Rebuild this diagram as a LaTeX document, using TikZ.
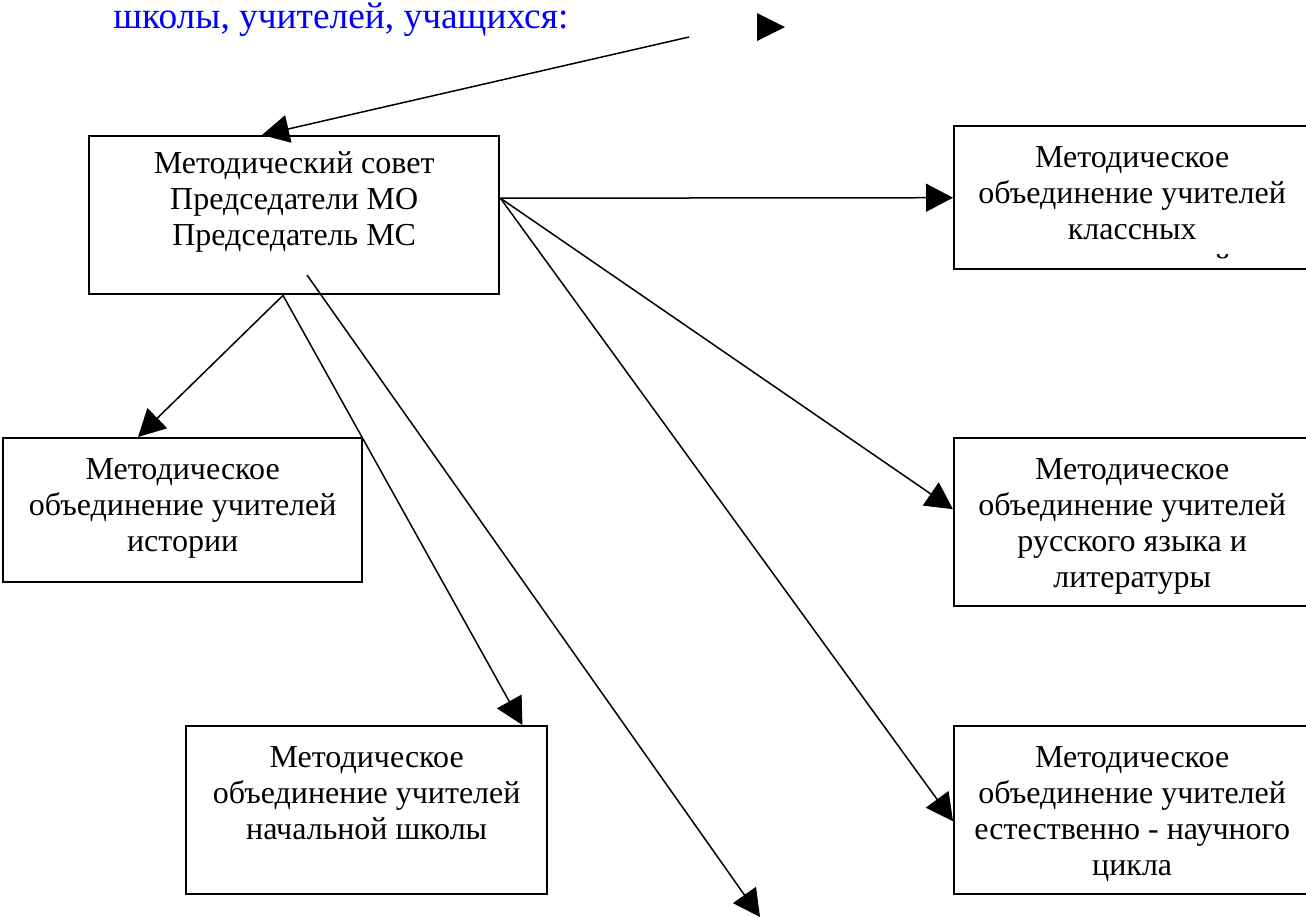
\documentclass[tikz,border=0pt]{standalone}
\usepackage{fontspec}
\setmainfont{Liberation Serif}
\usetikzlibrary{arrows.meta}

% texte d'une boite, aligne en haut
\newcommand{\textecadre}[4][7.9pt]{\parbox[c][#3][t]{#2}{\centering\vspace*{#1}\strut #4}}

\begin{document}
\begin{tikzpicture}[x=0.5pt,y=-0.5pt,
	cadre/.style={draw, line width=1.2pt, inner sep=0pt, anchor=north west, font=\fontsize{16}{18}\selectfont},
	fleche/.style={-{Triangle[length=13.5pt,width=14pt]}, line width=0.75pt}]
	% Cadre de l'image
	\useasboundingbox (0,0) rectangle (1306,917);
	\clip (0,0) rectangle (1306,917);
	
	% Titre en bleu
	\node[anchor=base west, inner sep=0pt, text=blue, font=\fontsize{18.7}{22}\selectfont] (titre) at (113,28) {школы, учителей, учащихся:};
	\coordinate (pointe) at (785,27);
	\fill (757,13) -- (pointe) -- (757,41) -- cycle;
	
	% Boites
	\node[cadre] (ms) at (88,135) {\textecadre[6.1pt]{205pt}{79pt}{Методический совет\\Председатели МО\\Председатель МС}};
	\node[cadre] (kr) at (953,125) {\textecadre{178pt}{71.5pt}{Методическое\\объединение учителей\\классных}};
	\node[cadre] (rus) at (953,437) {\textecadre{178pt}{84pt}{Методическое\\объединение учителей\\русского языка и\\литературы}};
	\node[cadre] (est) at (953,725) {\textecadre{178pt}{84pt}{Методическое\\объединение учителей\\естественно - научного\\цикла}};
	\node[cadre] (ist) at (2,437) {\textecadre{179.5pt}{72pt}{Методическое\\объединение учителей\\истории}};
	\node[cadre] (nach) at (185,725) {\textecadre{180.5pt}{84pt}{Методическое\\объединение учителей\\начальной школы}};
	
	% Ligne coupee en bas de la boite kr
	\begin{scope}
		\clip (953,125) rectangle (1306,258);
		\node[anchor=base, inner sep=0pt, font=\fontsize{16}{18}\selectfont] (krsuite) at (1131,276) {руководителей};
	\end{scope}
	
	% Points de depart
	\coordinate (depart) at (689,37);
	\coordinate (md) at ([yshift=8.5pt]ms.east);
	\coordinate (mb) at ([xshift=97.5pt]ms.south west);
	\coordinate (mi) at (307,275);
	\coordinate (bas) at (760,917);
	
	% Fleches
	\draw[fleche] (depart) -- ([xshift=87pt]ms.north west);
	\draw[fleche] (md) -- (kr.west);
	\draw[fleche] (md) -- ([yshift=6.5pt]rus.west);
	\draw[fleche] (md) -- ([yshift=-5.5pt]est.west);
	\draw[fleche] (mb) -- ([xshift=68pt]ist.north west);
	\draw[fleche] (mb) -- ([xshift=-13pt]nach.north east);
	\draw[fleche] (mi) -- (bas);
\end{tikzpicture}
\end{document}
